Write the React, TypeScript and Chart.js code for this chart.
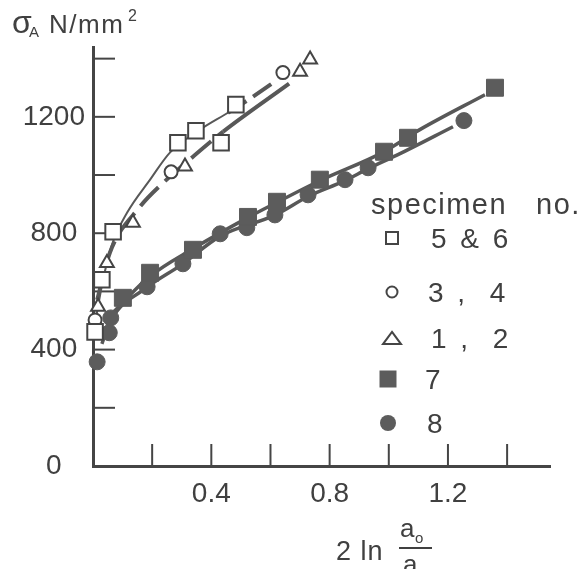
import React, { useEffect, useRef } from 'react';
import { Chart, registerables } from 'chart.js';

Chart.register(...registerables);

const W = 579;
const H = 569;
const FONT = '"Liberation Sans", Arimo, Arial, sans-serif';
const INK = '#404040';
const AXIS = '#454545';
const MARK = '#5c5c5c';
const LINE = '#585858';

// ---- measured series (x = 2 ln(a0/a), y = sigma_A in N/mm^2) ----
const sq56X = [0.007, 0.03, 0.068, 0.287, 0.348, 0.433, 0.483];
const sq56Y = [461, 640, 805, 1111, 1152, 1111, 1242];

const ci34X = [0.007, 0.264, 0.642];
const ci34Y = [502, 1011, 1352];

const tr12X = [0.017, 0.047, 0.135, 0.311, 0.7, 0.734];
const tr12Y = [547, 698, 836, 1029, 1355, 1397];

const sq7X = [0.101, 0.193, 0.338, 0.524, 0.622, 0.767, 0.984, 1.065, 1.359];
const sq7Y = [578, 664, 743, 856, 908, 984, 1080, 1128, 1300];

const ci8X = [0.014, 0.055, 0.06, 0.183, 0.304, 0.43, 0.52, 0.615, 0.727, 0.852, 0.93, 1.254];
const ci8Y = [358, 458, 509, 616, 695, 798, 819, 863, 932, 984, 1025, 1187];

// ---- hand-drawn fit curves ----
const fitAX = [0.01, 0.034, 0.064, 0.115, 0.193, 0.26, 0.362, 0.456, 0.53, 0.62];
const fitAY = [509, 640, 760, 870, 984, 1077, 1156, 1214, 1262, 1325];

const fitBX = [0.014, 0.057, 0.159, 0.237, 0.338, 0.44, 0.663];
const fitBY = [571, 733, 891, 973, 1063, 1149, 1314];

const fit7X = [0.06, 0.19, 0.34, 0.52, 0.62, 0.77, 0.98, 1.105, 1.325];
const fit7Y = [520, 650, 748, 852, 905, 982, 1078, 1156, 1276];

const fit8X = [0.03, 0.06, 0.18, 0.3, 0.43, 0.615, 0.73, 0.85, 0.93, 1.031, 1.217];
const fit8Y = [420, 500, 612, 692, 790, 862, 928, 980, 1022, 1070, 1166];

// ---- axes ----
const xTickValues = [0, 0.2, 0.4, 0.6, 0.8, 1.0, 1.2, 1.4];
const xLabelValues = [0.4, 0.8, 1.2];
const yTickValues = [0, 200, 400, 600, 800, 1000, 1200, 1400];
const yLabelValues = [0, 400, 800, 1200];

const legendTitle = ['specimen', 'no.'];
const legendLabels = ['5 & 6', '3 ,  4', '1 ,  2', '7', '8'];

const zip = (xs: number[], ys: number[]) => xs.map((x, i) => ({ x, y: ys[i] }));

function drawMarker(ctx: CanvasRenderingContext2D, style: string, x: number, y: number, s: number, filled: boolean) {
  ctx.save();
  ctx.beginPath();
  if (style === 'rect') {
    ctx.rect(x - s / 2, y - s / 2, s, s);
  } else if (style === 'circle') {
    ctx.arc(x, y, s / 2, 0, Math.PI * 2);
  } else {
    const h = s * 0.68;
    ctx.moveTo(x, y - h / 2);
    ctx.lineTo(x + s / 2, y + h / 2);
    ctx.lineTo(x - s / 2, y + h / 2);
    ctx.closePath();
  }
  if (filled) {
    ctx.fillStyle = MARK;
    ctx.fill();
  } else {
    ctx.fillStyle = '#fff';
    ctx.fill();
    ctx.lineWidth = 2;
    ctx.strokeStyle = AXIS;
    ctx.stroke();
  }
  ctx.restore();
}

const innerTicks = {
  id: 'innerTicks',
  beforeDatasetsDraw(chart: any) {
    const { ctx, chartArea, scales } = chart;
    ctx.save();
    ctx.strokeStyle = AXIS;
    ctx.lineWidth = 2;
    for (const v of yTickValues) {
      if (v === 0) continue;
      const py = scales.y.getPixelForValue(v);
      ctx.beginPath();
      ctx.moveTo(chartArea.left, py);
      ctx.lineTo(chartArea.left + 22, py);
      ctx.stroke();
    }
    for (const v of xTickValues) {
      if (v === 0) continue;
      const px = scales.x.getPixelForValue(v);
      ctx.beginPath();
      ctx.moveTo(px, chartArea.bottom);
      ctx.lineTo(px, chartArea.bottom - 22);
      ctx.stroke();
    }
    ctx.restore();
  },
};

const titles = {
  id: 'titles',
  afterDraw(chart: any) {
    const ctx: CanvasRenderingContext2D = chart.ctx;
    ctx.save();
    ctx.fillStyle = INK;
    ctx.textAlign = 'left';
    ctx.textBaseline = 'alphabetic';
    // y title: sigma_A N/mm^2
    ctx.font = `32px ${FONT}`;
    ctx.fillText('σ', 12, 33);
    ctx.font = `15px ${FONT}`;
    ctx.fillText('A', 29, 37);
    ctx.font = `26px ${FONT}`;
    (ctx as any).letterSpacing = '1.5px';
    ctx.fillText('N/mm', 49, 33);
    (ctx as any).letterSpacing = '0px';
    ctx.font = `16px ${FONT}`;
    ctx.fillText('2', 128, 21);

    // x title: 2 ln a0/a
    ctx.font = `27px ${FONT}`;
    (ctx as any).letterSpacing = '1px';
    ctx.fillText('2 ln', 336, 560);
    (ctx as any).letterSpacing = '0px';
    ctx.font = `26px ${FONT}`;
    ctx.fillText('a', 400, 537);
    ctx.font = `15px ${FONT}`;
    ctx.fillText('o', 415, 543);
    ctx.strokeStyle = INK;
    ctx.lineWidth = 2;
    ctx.beginPath();
    ctx.moveTo(399, 548);
    ctx.lineTo(432, 548);
    ctx.stroke();
    ctx.font = `26px ${FONT}`;
    ctx.fillText('a', 403, 573);

    // legend
    ctx.font = `29px ${FONT}`;
    (ctx as any).letterSpacing = '1.5px';
    ctx.fillText(legendTitle[0], 371, 214);
    ctx.fillText(legendTitle[1], 536, 214);
    ctx.font = `28px ${FONT}`;
    (ctx as any).letterSpacing = '3px';
    const rowsY = [238, 292, 338, 379, 423];
    const styles = ['rect', 'circle', 'triangle', 'rect', 'circle'];
    const sizes = [12, 11, 18, 17, 16];
    const filled = [false, false, false, true, true];
    const labelX = [431, 428, 431, 425, 427];
    legendLabels.forEach((lab, i) => {
      drawMarker(ctx, styles[i], i < 3 ? 392 : 388, rowsY[i], sizes[i], filled[i]);
      ctx.fillStyle = INK;
      ctx.fillText(lab, labelX[i], rowsY[i] + 10);
    });
    ctx.restore();
  },
};

export default function App() {
  const ref = useRef<HTMLCanvasElement>(null);

  useEffect(() => {
    if (!ref.current) return;
    const openPt = (style: string, r: number) => ({
      pointStyle: style,
      pointRadius: r,
      pointBackgroundColor: '#fff',
      pointBorderColor: AXIS,
      pointBorderWidth: 2,
      showLine: false,
      order: 0,
      clip: false as any,
    });
    const fillPt = (style: string, r: number) => ({
      pointStyle: style,
      pointRadius: r,
      pointBackgroundColor: MARK,
      pointBorderColor: MARK,
      pointBorderWidth: 1,
      showLine: false,
      order: 0,
      clip: false as any,
    });
    const fitLine = (extra: any) => ({
      showLine: true,
      pointRadius: 0,
      borderColor: LINE,
      cubicInterpolationMode: 'monotone',
      order: 1,
      clip: false as any,
      ...extra,
    });

    const chart = new Chart(ref.current, {
      type: 'scatter',
      data: {
        datasets: [
          { label: '5 & 6', data: zip(sq56X, sq56Y), ...openPt('rect', 11) },
          { label: '3, 4', data: zip(ci34X, ci34Y), ...openPt('circle', 6.5) },
          { label: '1, 2', data: zip(tr12X, tr12Y), ...openPt('triangle', 8) },
          { label: '7', data: zip(sq7X, sq7Y), ...fillPt('rect', 12) },
          { label: '8', data: zip(ci8X, ci8Y), ...fillPt('circle', 8) },
          {
            label: 'fit 5&6',
            data: zip(fitAX, fitAY),
            ...fitLine({
              borderWidth: 2,
              segment: {
                borderWidth: (c: any) => (c.p0DataIndex >= 7 ? 4 : 2),
                borderDash: (c: any) => (c.p0DataIndex >= 7 ? [22, 8] : undefined),
              },
            }),
          },
          {
            label: 'fit 1-4',
            data: zip(fitBX, fitBY),
            ...fitLine({
              borderWidth: 4,
              segment: {
                borderDash: (c: any) => (c.p0DataIndex >= 5 ? undefined : [26, 9]),
              },
            }),
          },
          { label: 'fit 7', data: zip(fit7X, fit7Y), ...fitLine({ borderWidth: 3.5 }) },
          { label: 'fit 8', data: zip(fit8X, fit8Y), ...fitLine({ borderWidth: 3.5 }) },
        ],
      },
      options: {
        responsive: false,
        animation: false,
        layout: { padding: { top: 47, right: 29, left: 0, bottom: 0 } },
        plugins: { legend: { display: false }, tooltip: { enabled: false } },
        scales: {
          x: {
            type: 'linear',
            min: 0,
            max: 1.545,
            afterFit: (s: any) => { s.height = 103; },
            afterBuildTicks: (s: any) => { s.ticks = xTickValues.map((v) => ({ value: v })); },
            grid: { display: false, drawTicks: false },
            border: { display: true, color: AXIS, width: 3 },
            ticks: {
              padding: 11,
              color: INK,
              font: { family: FONT, size: 28 },
              maxRotation: 0,
              autoSkip: false,
              callback: (v: any) => (xLabelValues.some((l) => Math.abs(l - v) < 1e-6) ? Number(v).toFixed(1) : ''),
            },
          },
          y: {
            type: 'linear',
            min: 0,
            max: 1440,
            afterFit: (s: any) => { s.width = 93; },
            afterBuildTicks: (s: any) => { s.ticks = yTickValues.map((v) => ({ value: v })); },
            grid: { display: false, drawTicks: false },
            border: { display: true, color: AXIS, width: 3 },
            ticks: {
              padding: 8,
              crossAlign: 'center',
              color: INK,
              font: { family: FONT, size: 28 },
              autoSkip: false,
              callback: (v: any) => (yLabelValues.includes(Number(v)) ? String(v) : ''),
            },
          },
        },
      },
      plugins: [innerTicks, titles],
    } as any);
    return () => chart.destroy();
  }, []);

  return (
    <div style={{ position: 'absolute', left: 0, top: 0, width: W, height: H, background: '#fff' }}>
      <canvas ref={ref} width={W} height={H} style={{ display: 'block', width: W, height: H }} />
    </div>
  );
}
